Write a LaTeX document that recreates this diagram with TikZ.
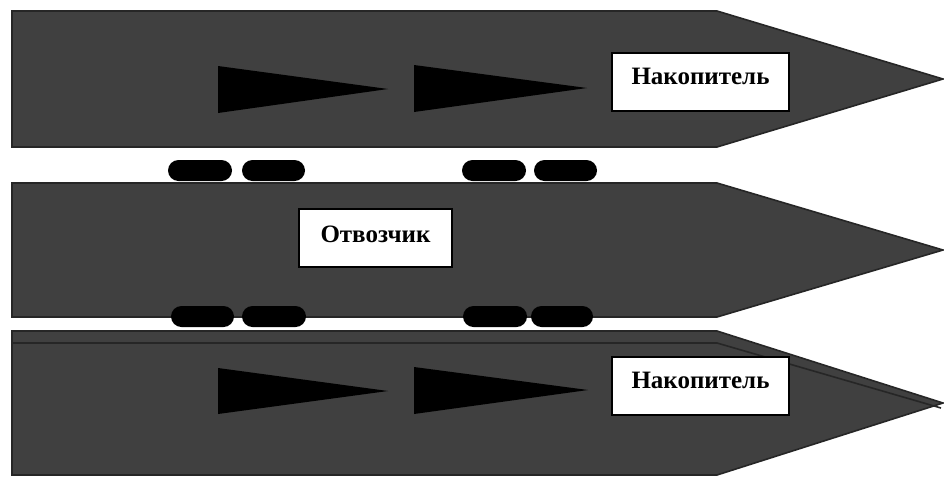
\documentclass[tikz,border=0pt]{standalone}
\usepackage{fontspec}
\setmainfont{Liberation Serif}
\begin{document}
\begin{tikzpicture}[x=1pt,y=-1pt,
  body/.style={fill=bodygray, draw=edgegray, line width=1.6pt, line join=miter},
  wedge/.style={fill=black, draw=none},
  pill/.style={fill=black, draw=none, rounded corners=10.5pt},
  labelbox/.style={draw=black, fill=white, line width=1.6pt, inner sep=0pt,
    minimum width=177pt, text height=31pt, text depth=27pt, anchor=base,
    font=\fontsize{25}{28}\selectfont\bfseries}]
\definecolor{bodygray}{HTML}{404040}
\definecolor{edgegray}{HTML}{262626}
\useasboundingbox (0,0) rectangle (944,477);
\fill[white] (0,0) rectangle (944,477);
% arrows (bodies)
\draw[body] (12,11) -- (717,11) -- (943,79) -- (717,147) -- (12,147) -- cycle;
\draw[body] (12,183) -- (717,183) -- (943,250) -- (717,317) -- (12,317) -- cycle;
\draw[body] (12,331) -- (717,331) -- (943,403) -- (717,475) -- (12,475) -- cycle;
\draw[edgegray, line width=1.6pt] (12,343) -- (717,343) -- (941,408);
% wedges
\fill[wedge] (218,66) -- (388,89) -- (218,113) -- cycle;
\fill[wedge] (414,65) -- (587,88) -- (414,112) -- cycle;
\fill[wedge] (218,368) -- (388,391) -- (218,414) -- cycle;
\fill[wedge] (414,367) -- (588,390) -- (414,414) -- cycle;
% pills
\fill[pill] (168,160) rectangle (232,181);
\fill[pill] (242,160) rectangle (305,181);
\fill[pill] (462,160) rectangle (526,181);
\fill[pill] (534,160) rectangle (597,181);
\fill[pill] (171,306) rectangle (234,327);
\fill[pill] (242,306) rectangle (306,327);
\fill[pill] (463,306) rectangle (527,327);
\fill[pill] (531,306) rectangle (593,327);
% labels
\node[labelbox] (nak1) at (700.5,84) {Накопитель};
\node[labelbox, minimum width=153pt, text height=33pt, text depth=25pt] (otv) at (375.5,242) {Отвозчик};
\node[labelbox] (nak2) at (700.5,388) {Накопитель};
\end{tikzpicture}
\end{document}
